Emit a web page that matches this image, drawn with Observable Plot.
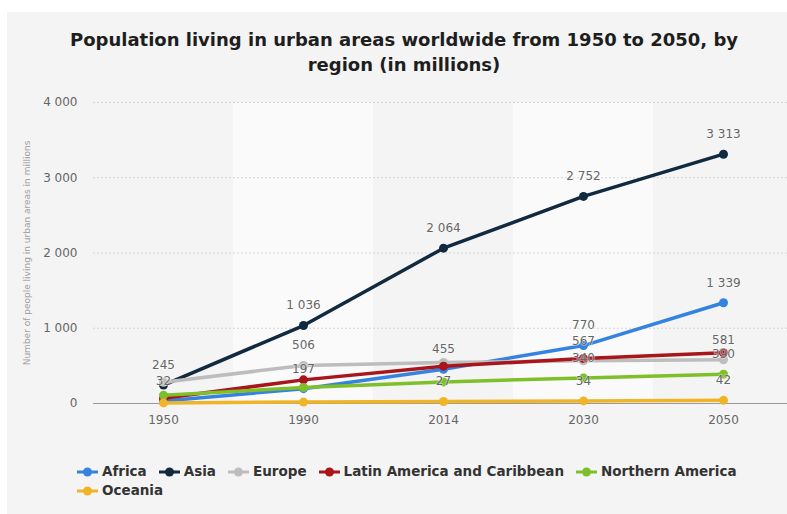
<!DOCTYPE html>
<html>
<head>
<meta charset="utf-8">
<script src="https://cdn.jsdelivr.net/npm/d3@7"></script>
<script src="https://cdn.jsdelivr.net/npm/@observablehq/plot@0.6"></script>
<style>
  html, body { margin: 0; padding: 0; background: #ffffff; width: 787px; height: 514px; overflow: hidden; }
  #panel { position: absolute; left: 7px; top: 12px; width: 780px; height: 502px; background: #f4f4f4; }
  #title { position: absolute; left: 0; top: 27px; width: 808px; text-align: center;
           font-family: "DejaVu Sans", sans-serif; font-weight: bold; font-size: 18px; line-height: 25px; color: #1e1e1e; }
  #chart { position: absolute; left: 0; top: 85px; }
  #legend { position: absolute; left: 77px; top: 462px; width: 680px;
            font-family: "DejaVu Sans", sans-serif; font-weight: bold; font-size: 13.5px; line-height: 19px; color: #333; }
  .item { display: inline-block; margin-right: 12px; white-space: nowrap; }
  .item svg { vertical-align: -1px; margin-right: 4px; }
</style>
</head>
<body>
<div id="panel"></div>
<div id="title">Population living in urban areas worldwide from 1950 to 2050, by<br>region (in millions)</div>
<div id="chart"></div>
<div id="legend"></div>
<script>
// ---- data ----
const years = ["1950", "1990", "2014", "2030", "2050"];
const seriesNames = ["Africa", "Asia", "Europe", "Latin America and Caribbean", "Northern America", "Oceania"];
const seriesColors = ["#3483e0", "#122a40", "#bdbdbd", "#a8151b", "#7fbf29", "#f0b429"];
const africa = [32, 197, 455, 770, 1339];
const asia = [245, 1036, 2064, 2752, 3313];
const europe = [283, 506, 545, 567, 581];
const latinAmerica = [69, 314, 496, 598, 674];
const northernAmerica = [110, 212, 287, 340, 390];
const oceania = [8, 19, 27, 34, 42];
const yTicks = [0, 1000, 2000, 3000, 4000];
const shadedYears = ["1990", "2030"];
// which points carry a visible value label
const labelled = [
  ["Asia", "1950"], ["Africa", "1950"],
  ["Asia", "1990"], ["Europe", "1990"], ["Africa", "1990"],
  ["Asia", "2014"], ["Africa", "2014"], ["Oceania", "2014"],
  ["Asia", "2030"], ["Africa", "2030"], ["Europe", "2030"], ["Northern America", "2030"], ["Oceania", "2030"],
  ["Asia", "2050"], ["Africa", "2050"], ["Europe", "2050"], ["Northern America", "2050"], ["Oceania", "2050"]
];
const yTitle = "Number of people living in urban areas in millions";

// ---- build table ----
const seriesValues = [africa, asia, europe, latinAmerica, northernAmerica, oceania];
const data = seriesNames.flatMap((name, s) =>
  years.map((year, i) => ({series: name, year, value: seriesValues[s][i]})));
const labelData = labelled.map(([name, year]) => data.find(d => d.series === name && d.year === year));
const fmt = d => d3.format(",")(d).replace(/,/g, " ");

const seriesMarks = seriesNames.flatMap((name, s) => {
  const rows = data.filter(d => d.series === name);
  return [
    Plot.line(rows, {x: "year", y: "value", stroke: seriesColors[s], strokeWidth: 3.5, curve: "linear"}),
    Plot.dot(rows, {x: "year", y: "value", r: 4.5, fill: seriesColors[s], stroke: "none"})
  ];
});

const chart = Plot.plot({
  width: 787,
  height: 348,
  marginLeft: 93,
  marginRight: 0,
  marginTop: 17,
  marginBottom: 30,
  style: {background: "transparent", fontFamily: "DejaVu Sans, sans-serif", fontSize: "12px", color: "#666", overflow: "visible"},
  x: {type: "band", domain: years, range: [93, 793], padding: 0, tickSize: 0, tickPadding: 12, label: null},
  y: {domain: [0, 4000], ticks: yTicks, tickSize: 0, tickPadding: 16, tickFormat: fmt, label: null},
  marks: [
    Plot.barY(shadedYears, {x: d => d, y: 4000, fill: "#fafafa"}),
    Plot.ruleY(yTicks.filter(t => t > 0), {stroke: "#d6d6d6", strokeDasharray: "2,2"}),
    Plot.ruleY([0], {stroke: "#999"}),
    ...seriesMarks,
    Plot.text(labelData, {x: "year", y: "value", text: d => fmt(d.value), dy: -20, fill: "#666", fontSize: 12,
      stroke: "#ffffff", strokeWidth: 1.5, strokeOpacity: 0.5}),
    Plot.text([yTitle], {frameAnchor: "left", dx: -66, rotate: -90, textAnchor: "middle", fill: "#a0a0a0", fontSize: 9, text: d => d})
  ]
});
document.getElementById("chart").appendChild(chart);

// ---- legend ----
const legend = document.getElementById("legend");
seriesNames.forEach((name, s) => {
  const item = document.createElement("span");
  item.className = "item";
  item.innerHTML = `<svg width="21" height="10"><line x1="0" y1="5" x2="21" y2="5" stroke="${seriesColors[s]}" stroke-width="3"/><circle cx="10.5" cy="5" r="4.5" fill="${seriesColors[s]}"/></svg>`;
  item.appendChild(document.createTextNode(name));
  legend.appendChild(item);
});
</script>
</body>
</html>
